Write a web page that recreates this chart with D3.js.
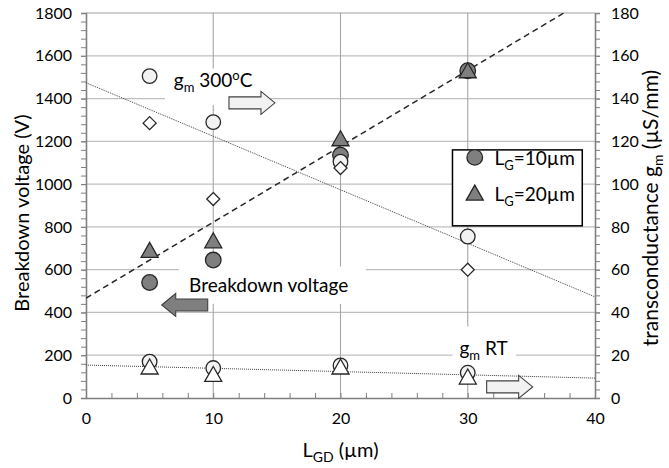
<!DOCTYPE html>
<html>
<head>
<meta charset="utf-8">
<script src="https://cdn.jsdelivr.net/npm/d3@7"></script>
<style>
body { margin: 0; background: #fff; }
text { font-family: Lato, "Liberation Sans", sans-serif; fill: #000; }
</style>
</head>
<body>
<div id="chart"></div>
<script>
// gate-drain spacing (µm)
var lgd = [5, 10, 20, 30];
// breakdown voltage (V), left axis
var bvLG10 = [540, 645, 1135, 1530];
var bvLG20 = [690, 735, 1212, 1530];
// transconductance (µS/mm), right axis
var gm300Circle = [150.5, 129, 110.5, 75.5];
var gm300Diamond = [128.5, 93, 107.5, 60];
var gmRTCircle = [17, 14, 15.2, 11.8];
var gmRTTriangle = [14.5, 11, 14.5, 9.8];
// trend lines: [x, value]
var bvTrend = [[0, 467], [40, 1887]];
var gm300Trend = [[0, 147.4], [40, 47.3]];
var gmRTTrend = [[0, 15.4], [40, 9.3]];
// ticks
var xTicks = [0, 10, 20, 30, 40];
var yLeftTicks = [0, 200, 400, 600, 800, 1000, 1200, 1400, 1600, 1800];
var yRightTicks = [0, 20, 40, 60, 80, 100, 120, 140, 160, 180];

var w = 669, h = 468;
var margin = {top: 13, right: 74, bottom: 70, left: 86};

var svg = d3.select("#chart").append("svg")
	.attr("width", w)
	.attr("height", h);

var xScale = d3.scaleLinear().domain([0, 40]).range([margin.left, w - margin.right]);
var yLeft = d3.scaleLinear().domain([0, 1800]).range([h - margin.bottom, margin.top]);
var yRight = d3.scaleLinear().domain([0, 180]).range([h - margin.bottom, margin.top]);

svg.append("clipPath").attr("id", "plot")
	.append("rect")
	.attr("x", margin.left).attr("y", margin.top)
	.attr("width", w - margin.left - margin.right)
	.attr("height", h - margin.top - margin.bottom);

// gridlines
svg.append("g").selectAll("line").data(yLeftTicks.slice(1)).enter().append("line")
	.attr("x1", margin.left).attr("x2", w - margin.right)
	.attr("y1", function(d) { return yLeft(d); }).attr("y2", function(d) { return yLeft(d); })
	.attr("stroke", "#bfbfbf").attr("stroke-width", 1.3);
svg.append("g").selectAll("line").data([10, 20, 30]).enter().append("line")
	.attr("y1", margin.top).attr("y2", h - margin.bottom)
	.attr("x1", function(d) { return xScale(d); }).attr("x2", function(d) { return xScale(d); })
	.attr("stroke", "#a6a6a6").attr("stroke-width", 1.1);

// white label boxes that hide gridlines (data units)
var boxes = [
	[6.2, 1540, 11.5, 1370],
	[7.3, 615, 22.0, 440],
	[28.8, 335, 33.8, 155]
];
svg.append("g").selectAll("rect").data(boxes).enter().append("rect")
	.attr("x", function(d) { return xScale(d[0]); })
	.attr("y", function(d) { return yLeft(d[1]); })
	.attr("width", function(d) { return xScale(d[2]) - xScale(d[0]); })
	.attr("height", function(d) { return yLeft(d[3]) - yLeft(d[1]); })
	.attr("fill", "#fff");

// axes
var axisColor = "#7f7f7f";
function styleAxis(g) {
	g.selectAll("path").attr("stroke", axisColor).attr("stroke-width", 1.3);
	g.selectAll("line").attr("stroke", axisColor);
	g.selectAll("text").style("font-size", "16px").attr("fill", "#000");
}
var minorX = d3.range(0, 40.01, 2);
svg.append("g")
	.attr("transform", "translate(0," + (h - margin.bottom) + ")")
	.call(d3.axisTop(xScale).tickValues(minorX).tickSize(5).tickFormat("").tickSizeOuter(0))
	.call(styleAxis);
svg.append("g")
	.attr("transform", "translate(0," + (h - margin.bottom) + ")")
	.call(d3.axisBottom(xScale).tickValues(xTicks).tickSize(0).tickPadding(15).tickFormat(d3.format("d")))
	.call(styleAxis)
	.call(function(g) { g.select("path").remove(); });

svg.append("g")
	.attr("transform", "translate(" + margin.left + ",0)")
	.call(d3.axisLeft(yLeft).tickValues(d3.range(0, 1800.1, 40)).tickSize(5).tickFormat("").tickSizeOuter(0))
	.call(styleAxis);
svg.append("g")
	.attr("transform", "translate(" + margin.left + ",0)")
	.call(d3.axisLeft(yLeft).tickValues(yLeftTicks).tickSize(5).tickPadding(9).tickFormat(d3.format("d")))
	.call(styleAxis);

svg.append("g")
	.attr("transform", "translate(" + (w - margin.right) + ",0)")
	.call(d3.axisRight(yRight).tickValues(d3.range(0, 180.1, 4)).tickSize(5).tickFormat("").tickSizeOuter(0))
	.call(styleAxis);
svg.append("g")
	.attr("transform", "translate(" + (w - margin.right) + ",0)")
	.call(d3.axisRight(yRight).tickValues(yRightTicks).tickSize(5).tickPadding(11).tickFormat(d3.format("d")))
	.call(styleAxis)
	.call(function(g) { g.selectAll("text").attr("text-anchor", "start"); });

// trend lines
var lineL = d3.line().x(function(d) { return xScale(d[0]); }).y(function(d) { return yLeft(d[1]); });
var lineR = d3.line().x(function(d) { return xScale(d[0]); }).y(function(d) { return yRight(d[1]); });
var trends = svg.append("g").attr("clip-path", "url(#plot)");
trends.append("path").datum(bvTrend).attr("d", lineL)
	.attr("fill", "none").attr("stroke", "#262626").attr("stroke-width", 1.5).attr("stroke-dasharray", "6,4");
trends.append("path").datum(gm300Trend).attr("d", lineR)
	.attr("fill", "none").attr("stroke", "#404040").attr("stroke-width", 1).attr("stroke-dasharray", "1,1");
trends.append("path").datum(gmRTTrend).attr("d", lineR)
	.attr("fill", "none").attr("stroke", "#404040").attr("stroke-width", 1).attr("stroke-dasharray", "1,1");

// marker shapes
function triPath(cx, cy) {
	return "M" + cx + "," + (cy - 8) + "L" + (cx + 8.5) + "," + (cy + 7) + "L" + (cx - 8.5) + "," + (cy + 7) + "Z";
}
function diaPath(cx, cy) {
	return "M" + cx + "," + (cy - 6.5) + "L" + (cx + 6.5) + "," + cy + "L" + cx + "," + (cy + 6.5) + "L" + (cx - 6.5) + "," + cy + "Z";
}
var stroke = "#262626";
function circles(vals, yS, fill, r) {
	svg.append("g").selectAll("circle").data(vals).enter().append("circle")
		.attr("cx", function(d, i) { return xScale(lgd[i]); })
		.attr("cy", function(d) { return yS(d); })
		.attr("r", r)
		.attr("fill", fill).attr("stroke", stroke).attr("stroke-width", 1.3);
}
function shapes(vals, yS, fill, fn) {
	svg.append("g").selectAll("path").data(vals).enter().append("path")
		.attr("d", function(d, i) { return fn(xScale(lgd[i]), yS(d)); })
		.attr("fill", fill).attr("stroke", stroke).attr("stroke-width", 1.3);
}
circles(bvLG10, yLeft, "#7f7f7f", 7.8);
shapes(bvLG20, yLeft, "#7f7f7f", triPath);
circles(gm300Circle, yRight, "#f2f2f2", 7.3);
shapes(gm300Diamond, yRight, "#fff", diaPath);
circles(gmRTCircle, yRight, "#f2f2f2", 7.3);
shapes(gmRTTriangle, yRight, "#fff", triPath);

// block arrows: tip position in data units and direction
function arrowPath(tx, ty, dir, len, headLen, bodyH, headH) {
	var b = tx - dir * headLen, e = tx - dir * len;
	return "M" + tx + "," + ty +
		"L" + b + "," + (ty - headH / 2) + "L" + b + "," + (ty - bodyH / 2) +
		"L" + e + "," + (ty - bodyH / 2) + "L" + e + "," + (ty + bodyH / 2) +
		"L" + b + "," + (ty + bodyH / 2) + "L" + b + "," + (ty + headH / 2) + "Z";
}
var arrows = [
	{x: 14.85, v: 1380, dir: 1, fill: "#f2f2f2"},
	{x: 5.95, v: 435, dir: -1, fill: "#7f7f7f"},
	{x: 35.1, v: 52, dir: 1, fill: "#f2f2f2"}
];
svg.append("g").selectAll("path").data(arrows).enter().append("path")
	.attr("d", function(d) { return arrowPath(xScale(d.x), yLeft(d.v), d.dir, 46, 14, 12, 23); })
	.attr("fill", function(d) { return d.fill; })
	.attr("stroke", "#404040").attr("stroke-width", 1.1);

// labels
var lab1 = svg.append("text").attr("x", xScale(6.9)).attr("y", yLeft(1455)).style("font-size", "19px");
lab1.append("tspan").text("g");
lab1.append("tspan").attr("dy", 5).style("font-size", "13px").text("m");
lab1.append("tspan").attr("dy", -5).text(" 300");
lab1.append("tspan").attr("dy", -7).style("font-size", "13px").text("o");
lab1.append("tspan").attr("dy", 7).text("C");

svg.append("text").attr("x", xScale(8.1)).attr("y", yLeft(495)).style("font-size", "19px")
	.text("Breakdown voltage");

var lab3 = svg.append("text").attr("x", xScale(29.35)).attr("y", yLeft(200)).style("font-size", "19px");
lab3.append("tspan").text("g");
lab3.append("tspan").attr("dy", 5).style("font-size", "13px").text("m");
lab3.append("tspan").attr("dy", -5).text(" RT");

// legend
var legend = svg.append("g");
legend.append("rect")
	.attr("x", xScale(28.8)).attr("y", yLeft(1160))
	.attr("width", xScale(39.0) - xScale(28.8)).attr("height", yLeft(805) - yLeft(1160))
	.attr("fill", "#fff").attr("stroke", "#000").attr("stroke-width", 1.5);
legend.append("circle").attr("cx", xScale(30.55)).attr("cy", yLeft(1125)).attr("r", 7.8)
	.attr("fill", "#7f7f7f").attr("stroke", stroke).attr("stroke-width", 1.3);
legend.append("path").attr("d", triPath(xScale(30.55), yLeft(958)))
	.attr("fill", "#7f7f7f").attr("stroke", stroke).attr("stroke-width", 1.3);
["10", "20"].forEach(function(s, i) {
	var t = legend.append("text").attr("x", xScale(32.1)).attr("y", yLeft(i ? 923 : 1088)).style("font-size", "19px");
	t.append("tspan").text("L");
	t.append("tspan").attr("dy", 5).style("font-size", "13px").text("G");
	t.append("tspan").attr("dy", -5).text("=" + s + "µm");
});

// axis titles
svg.append("text")
	.attr("transform", "translate(29,213) rotate(-90)")
	.attr("text-anchor", "middle").style("font-size", "20px")
	.text("Breakdown voltage (V)");

var rt = svg.append("text")
	.attr("transform", "translate(658,208) rotate(-90)")
	.attr("text-anchor", "middle").style("font-size", "21px");
rt.append("tspan").text("transconductance g");
rt.append("tspan").attr("dy", 5).style("font-size", "14px").text("m");
rt.append("tspan").attr("dy", -5).text(" (µS/mm)");

var xt = svg.append("text")
	.attr("x", (margin.left + w - margin.right) / 2).attr("y", 457)
	.attr("text-anchor", "middle").style("font-size", "20px");
xt.append("tspan").text("L");
xt.append("tspan").attr("dy", 5).style("font-size", "14px").text("GD");
xt.append("tspan").attr("dy", -5).text(" (µm)");
</script>
</body>
</html>
